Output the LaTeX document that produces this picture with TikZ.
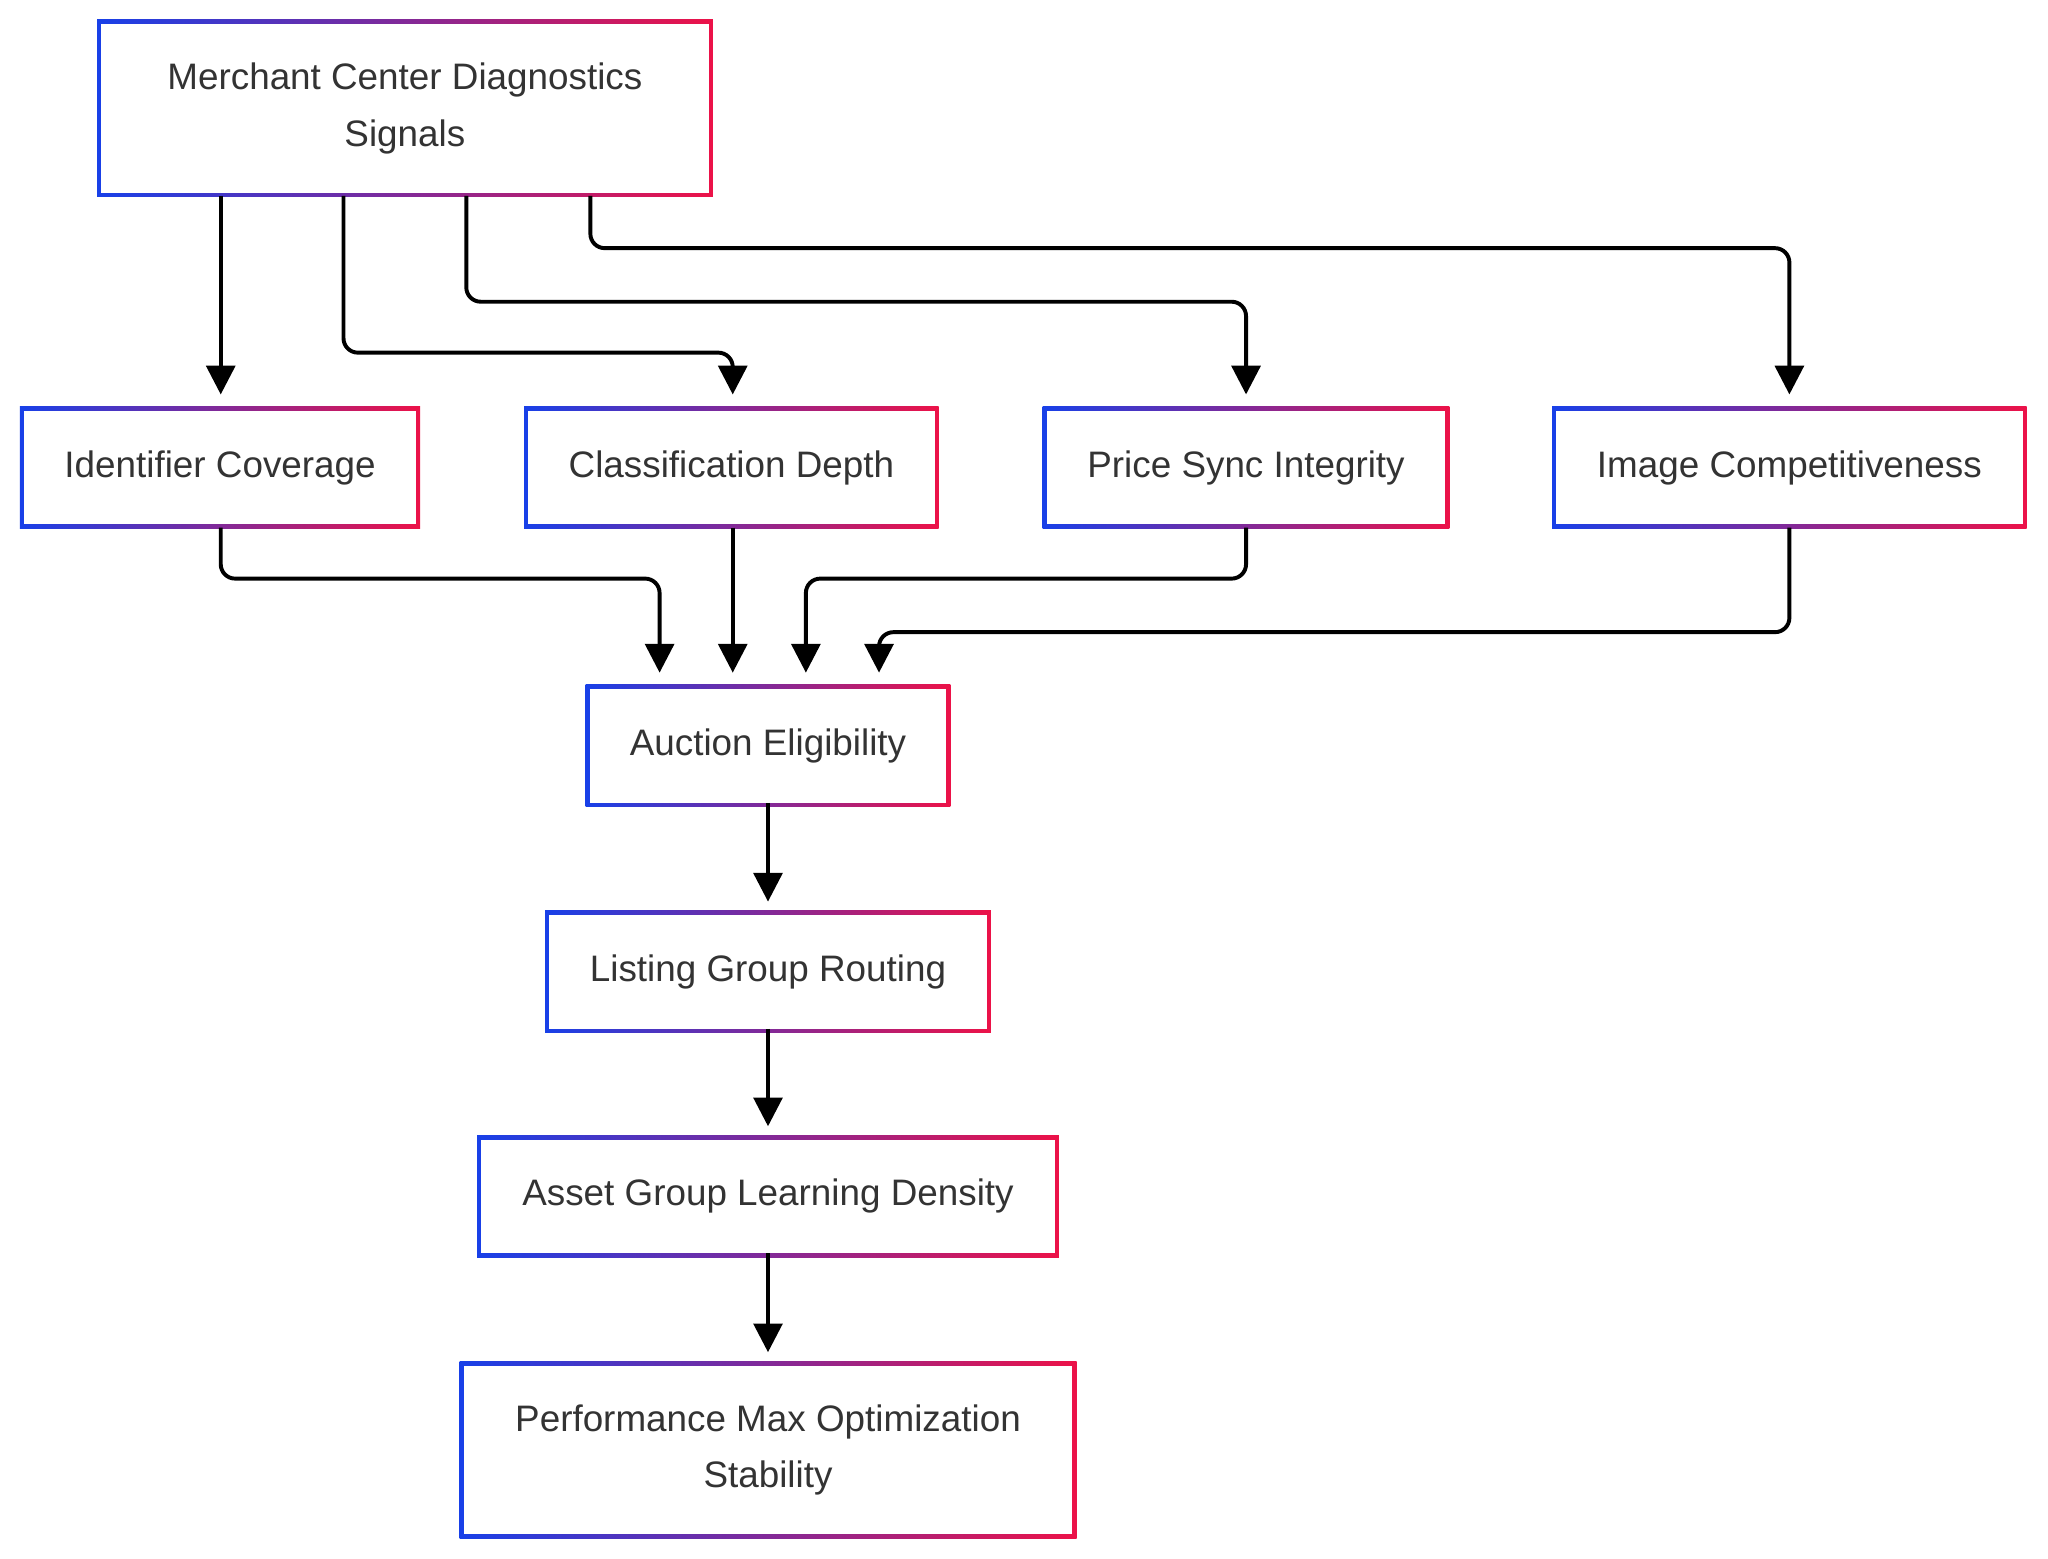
\documentclass[tikz,border=0pt]{standalone}
\usepackage{fontspec}
\setmainfont{Liberation Sans}
\usetikzlibrary{arrows.meta,backgrounds}
\definecolor{gblue}{HTML}{1840E8}
\definecolor{gred}{HTML}{EC1248}
\definecolor{txt}{HTML}{333333}
\tikzset{
  bx/.style={fill=white,inner sep=0pt,align=center,font=\fontsize{28.2}{43}\selectfont,text=txt},
  conn/.style={line width=3pt,rounded corners=11pt,-{Triangle[width=22pt,length=22pt]},shorten >=10pt}
}
\newcommand{\gshade}[1]{\shade[left color=gblue,right color=gred] ([shift={(-3pt,3pt)}]#1.north west) rectangle ([shift={(3pt,-3pt)}]#1.south east);}
\begin{document}
\begin{tikzpicture}[x=1pt,y=-1pt]
\useasboundingbox (0,0) rectangle (1568,1193);
\node[bx,minimum width=465,minimum height=129] (M) at (310,83) {Merchant Center Diagnostics\\Signals};
\node[bx,minimum width=300,minimum height=87] (I) at (168.5,358) {Identifier Coverage};
\node[bx,minimum width=311,minimum height=87] (C) at (560,358) {Classification Depth};
\node[bx,minimum width=305,minimum height=87] (P) at (954,358) {Price Sync Integrity};
\node[bx,minimum width=357,minimum height=87] (G) at (1370,358) {Image Competitiveness};
\node[bx,minimum width=273,minimum height=87] (A) at (588,571) {Auction Eligibility};
\node[bx,minimum width=335,minimum height=87] (L) at (588,744) {Listing Group Routing};
\node[bx,minimum width=439,minimum height=87] (S) at (588,916) {Asset Group Learning Density};
\node[bx,minimum width=466,minimum height=129] (F) at (588,1110) {Performance Max Optimization\\Stability};
\begin{scope}[on background layer]
\foreach \n in {M,I,C,P,G,A,L,S,F} {\gshade{\n}}
\end{scope}
\draw[conn] (169,150) -- (169,312);
\draw[conn] (263,150) -- (263,270) -- (561,270) -- (561,312);
\draw[conn] (357,150) -- (357,231) -- (954,231) -- (954,312);
\draw[conn] (452,150) -- (452,190) -- (1370,190) -- (1370,312);
\draw[conn] (169,404) -- (169,443) -- (505,443) -- (505,525);
\draw[conn] (561,404) -- (561,525);
\draw[conn] (954,404) -- (954,443) -- (617,443) -- (617,525);
\draw[conn] (1370,404) -- (1370,484) -- (673,484) -- (673,525);
\draw[conn] (A.south) -- (L.north);
\draw[conn] (L.south) -- (S.north);
\draw[conn] (S.south) -- (F.north);
\end{tikzpicture}
\end{document}
